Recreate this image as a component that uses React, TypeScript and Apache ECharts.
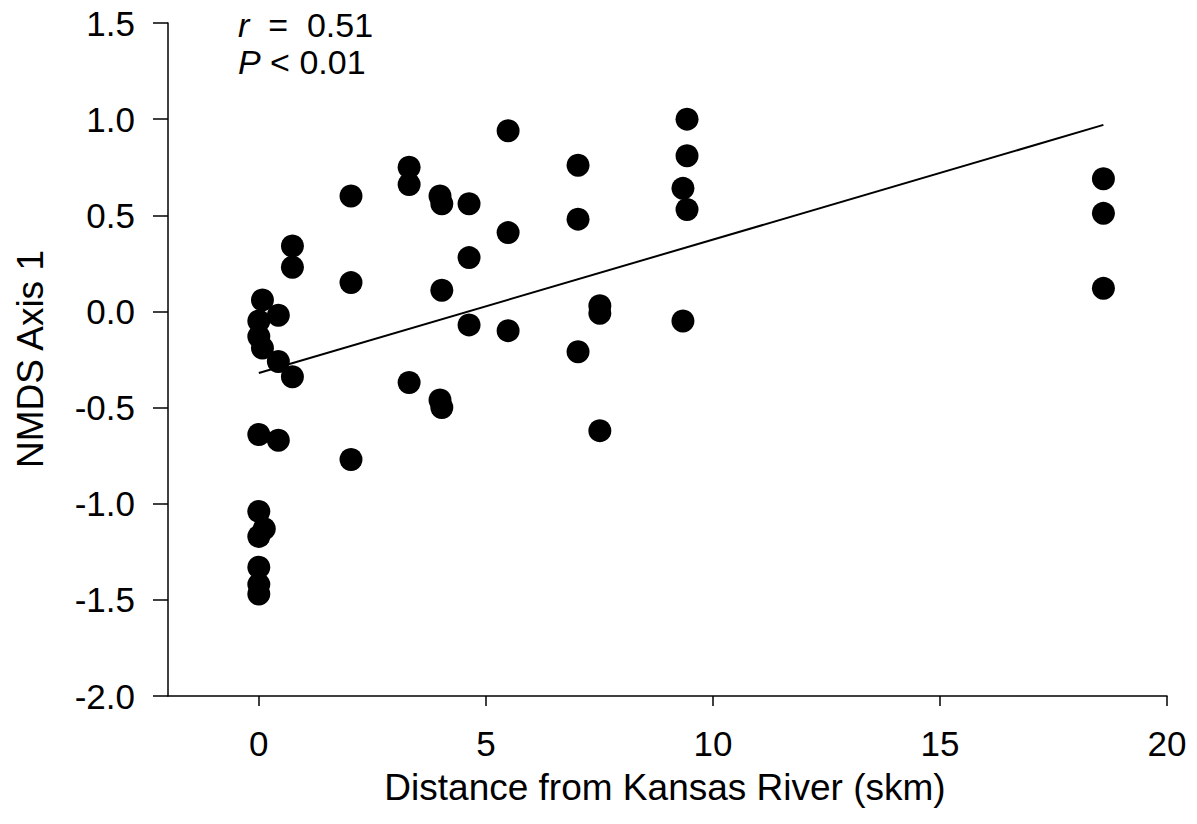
import React, { useEffect, useRef } from "react";
import * as echarts from "echarts";

const distanceKm = [
  0.08, 0, 0, 0.08, 0.43, 0.43, 0.74, 0.74, 0.74, 0, 0.43, 0, 0.12, 0, 0, 0, 0,
  2.03, 2.03, 2.03,
  3.31, 3.31, 3.31,
  3.99, 3.99,
  4.03, 4.03, 4.03,
  4.63, 4.63, 4.63,
  5.49, 5.49, 5.49,
  7.03, 7.03, 7.03,
  7.51, 7.51, 7.51,
  9.43, 9.43, 9.43,
  9.34, 9.34,
  18.6, 18.6, 18.6,
];
const nmdsAxis1 = [
  0.06, -0.05, -0.13, -0.19, -0.02, -0.26, -0.34, 0.34, 0.23, -0.64, -0.67, -1.04, -1.13, -1.17, -1.33, -1.42, -1.47,
  0.6, 0.15, -0.77,
  0.75, 0.66, -0.37,
  0.6, -0.46,
  0.56, 0.11, -0.5,
  0.56, 0.28, -0.07,
  0.94, 0.41, -0.1,
  0.76, 0.48, -0.21,
  0.03, -0.01, -0.62,
  1.0, 0.81, 0.53,
  0.64, -0.05,
  0.69, 0.51, 0.12,
];
const fitX = [0, 18.6];
const fitY = [-0.32, 0.97];
const xTicks = [0, 5, 10, 15, 20];
const xTitle = "Distance from Kansas River (skm)";
const yTitle = "NMDS Axis 1";
const rText = "0.51";
const pText = "0.01";

const FONT = "'Liberation Sans', Arial, Helvetica, sans-serif";

export default function App() {
  const ref = useRef<HTMLDivElement>(null);
  useEffect(() => {
    if (!ref.current) return;
    const chart = echarts.init(ref.current, null, { renderer: "svg" });
    const points = distanceKm.map((x, i) => [x, nmdsAxis1[i]]);
    const fit = fitX.map((x, i) => [x, fitY[i]]);
    chart.setOption({
      animation: false,
      backgroundColor: "#ffffff",
      textStyle: { fontFamily: FONT },
      grid: { left: 168, top: 23, right: 30, bottom: 128, containLabel: false },
      xAxis: {
        type: "value",
        min: -2,
        max: 20,
        splitLine: { show: false },
        axisLine: { show: true, onZero: false, lineStyle: { color: "#000", width: 1.5 } },
        axisTick: { show: true, length: 10, inside: false, customValues: xTicks, lineStyle: { color: "#000", width: 1.5 } },
        axisLabel: { show: true, customValues: xTicks, margin: 30, fontSize: 35, color: "#000", fontFamily: FONT },
      },
      yAxis: {
        type: "value",
        min: -2,
        max: 1.5,
        interval: 0.5,
        splitLine: { show: false },
        axisLine: { show: true, onZero: false, lineStyle: { color: "#000", width: 1.5 } },
        axisTick: { show: true, length: 15, inside: false, lineStyle: { color: "#000", width: 1.5 } },
        axisLabel: {
          show: true,
          margin: 33,
          fontSize: 35,
          color: "#000",
          fontFamily: FONT,
          formatter: (v: number) => v.toFixed(1),
        },
      },
      series: [
        {
          type: "line",
          data: fit,
          showSymbol: false,
          symbol: "none",
          lineStyle: { color: "#000", width: 2 },
          z: 2,
        },
        {
          type: "scatter",
          data: points,
          symbol: "circle",
          symbolSize: 23,
          itemStyle: { color: "#000", opacity: 1 },
          z: 3,
        },
      ],
      graphic: [
        {
          type: "text",
          x: 665,
          y: 787,
          style: {
            text: xTitle,
            font: `37px ${FONT}`,
            fill: "#000",
            align: "center",
            verticalAlign: "middle",
          },
        },
        {
          type: "text",
          x: 30,
          y: 359,
          rotation: Math.PI / 2,
          style: {
            text: yTitle,
            font: `37px ${FONT}`,
            fill: "#000",
            align: "center",
            verticalAlign: "middle",
          },
        },
        {
          type: "text",
          x: 238,
          y: 25,
          style: {
            text: `{i|r}{n|  =  ${rText}}`,
            verticalAlign: "middle",
            rich: {
              i: { font: `italic 34px ${FONT}`, fill: "#000" },
              n: { font: `34px ${FONT}`, fill: "#000" },
            },
          },
        },
        {
          type: "text",
          x: 238,
          y: 62,
          style: {
            text: `{i|P}{n| < ${pText}}`,
            verticalAlign: "middle",
            rich: {
              i: { font: `italic 34px ${FONT}`, fill: "#000" },
              n: { font: `34px ${FONT}`, fill: "#000" },
            },
          },
        },
      ],
    });
    return () => chart.dispose();
  }, []);
  return (
    <div
      ref={ref}
      style={{ position: "fixed", left: 0, top: 0, width: 1197, height: 824, background: "#fff" }}
    />
  );
}
